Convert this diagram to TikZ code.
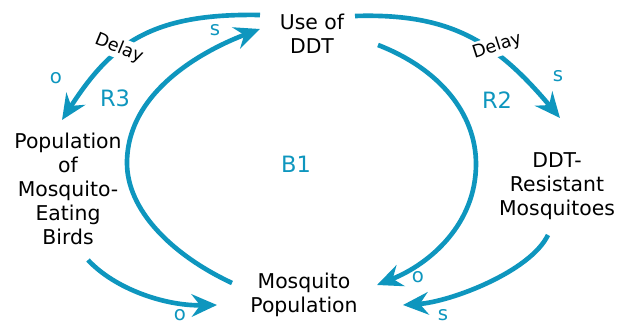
\documentclass[tikz,border=0pt]{standalone}
\usepackage{fontspec}
\setmainfont{DejaVu Sans}
\usetikzlibrary{arrows.meta}
\definecolor{loop}{HTML}{0E96BE}
\tikzset{
  var/.style={align=center, inner sep=0pt, font=\fontsize{14.5}{17}\selectfont},
  link/.style={draw=loop, line width=3.3pt, -{Stealth[length=18pt,width=16pt,inset=6pt]}},
  pol/.style={text=loop, font=\fontsize{14}{16}\selectfont},
  lbl/.style={text=loop, font=\fontsize{16}{18}\selectfont},
  delay/.style={fill=white, inner sep=1.5pt, font=\fontsize{12.5}{14}\selectfont},
}
\begin{document}
\begin{tikzpicture}[x=0.025cm,y=0.025cm]
  \useasboundingbox (0,0) rectangle (621,324);
  % variables
  \node[var] (ddt) at (312,290) {Use of\\DDT};
  \node[var] (birds) at (68,135) {Population\\of\\Mosquito-\\Eating\\Birds};
  \node[var] (res) at (557,138) {DDT-\\Resistant\\Mosquitoes};
  \node[var] (mos) at (304,29) {Mosquito\\Population};
  % loop names
  \node[lbl] (r3) at (115,226) {R3};
  \node[lbl] (b1) at (296,160) {B1};
  \node[lbl] (r2) at (497,224) {R2};
  % arrow ends
  \coordinate (ddtL) at (260,309);
  \coordinate (ddtT) at (260,295);
  \coordinate (ddtR) at (355,308);
  \coordinate (ddtB) at (378,279);
  \coordinate (birdsT) at (62,204);
  \coordinate (birdsB) at (88,64);
  \coordinate (resT) at (560,206);
  \coordinate (resB) at (548,89);
  \coordinate (mosL) at (232,41);
  \coordinate (mosW) at (217,19);
  \coordinate (mosN) at (377,39);
  \coordinate (mosE) at (403,19);
  % links
  \draw[link] (ddtL) .. controls (150,311) and (111,279.5) .. (birdsT);
  \draw[link] (mosL) .. controls (170,70) and (127,115) .. (127,161)
    .. controls (127,240) and (220,280) .. (ddtT);
  \draw[link] (ddtR) .. controls (450,311) and (495.7,282.6) .. (resT);
  \draw[link] (ddtB) .. controls (440,255) and (476,210) .. (476,160)
    .. controls (476,100) and (430,60) .. (mosN);
  \draw[link] (resB) .. controls (530,52) and (450,22) .. (mosE);
  \draw[link] (birdsB) .. controls (115,35) and (165,18) .. (mosW);
  % delays
  \node[delay, rotate=-22] (dl) at (119,276) {Delay};
  \node[delay, rotate=18] (dr) at (497,278) {Delay};
  % polarities
  \node[pol] (p1) at (56,246) {o};
  \node[pol] (p2) at (215,294) {s};
  \node[pol] (p3) at (558,248) {s};
  \node[pol] (p4) at (418,47) {o};
  \node[pol] (p5) at (443,9) {s};
  \node[pol] (p6) at (180,9) {o};
\end{tikzpicture}
\end{document}
